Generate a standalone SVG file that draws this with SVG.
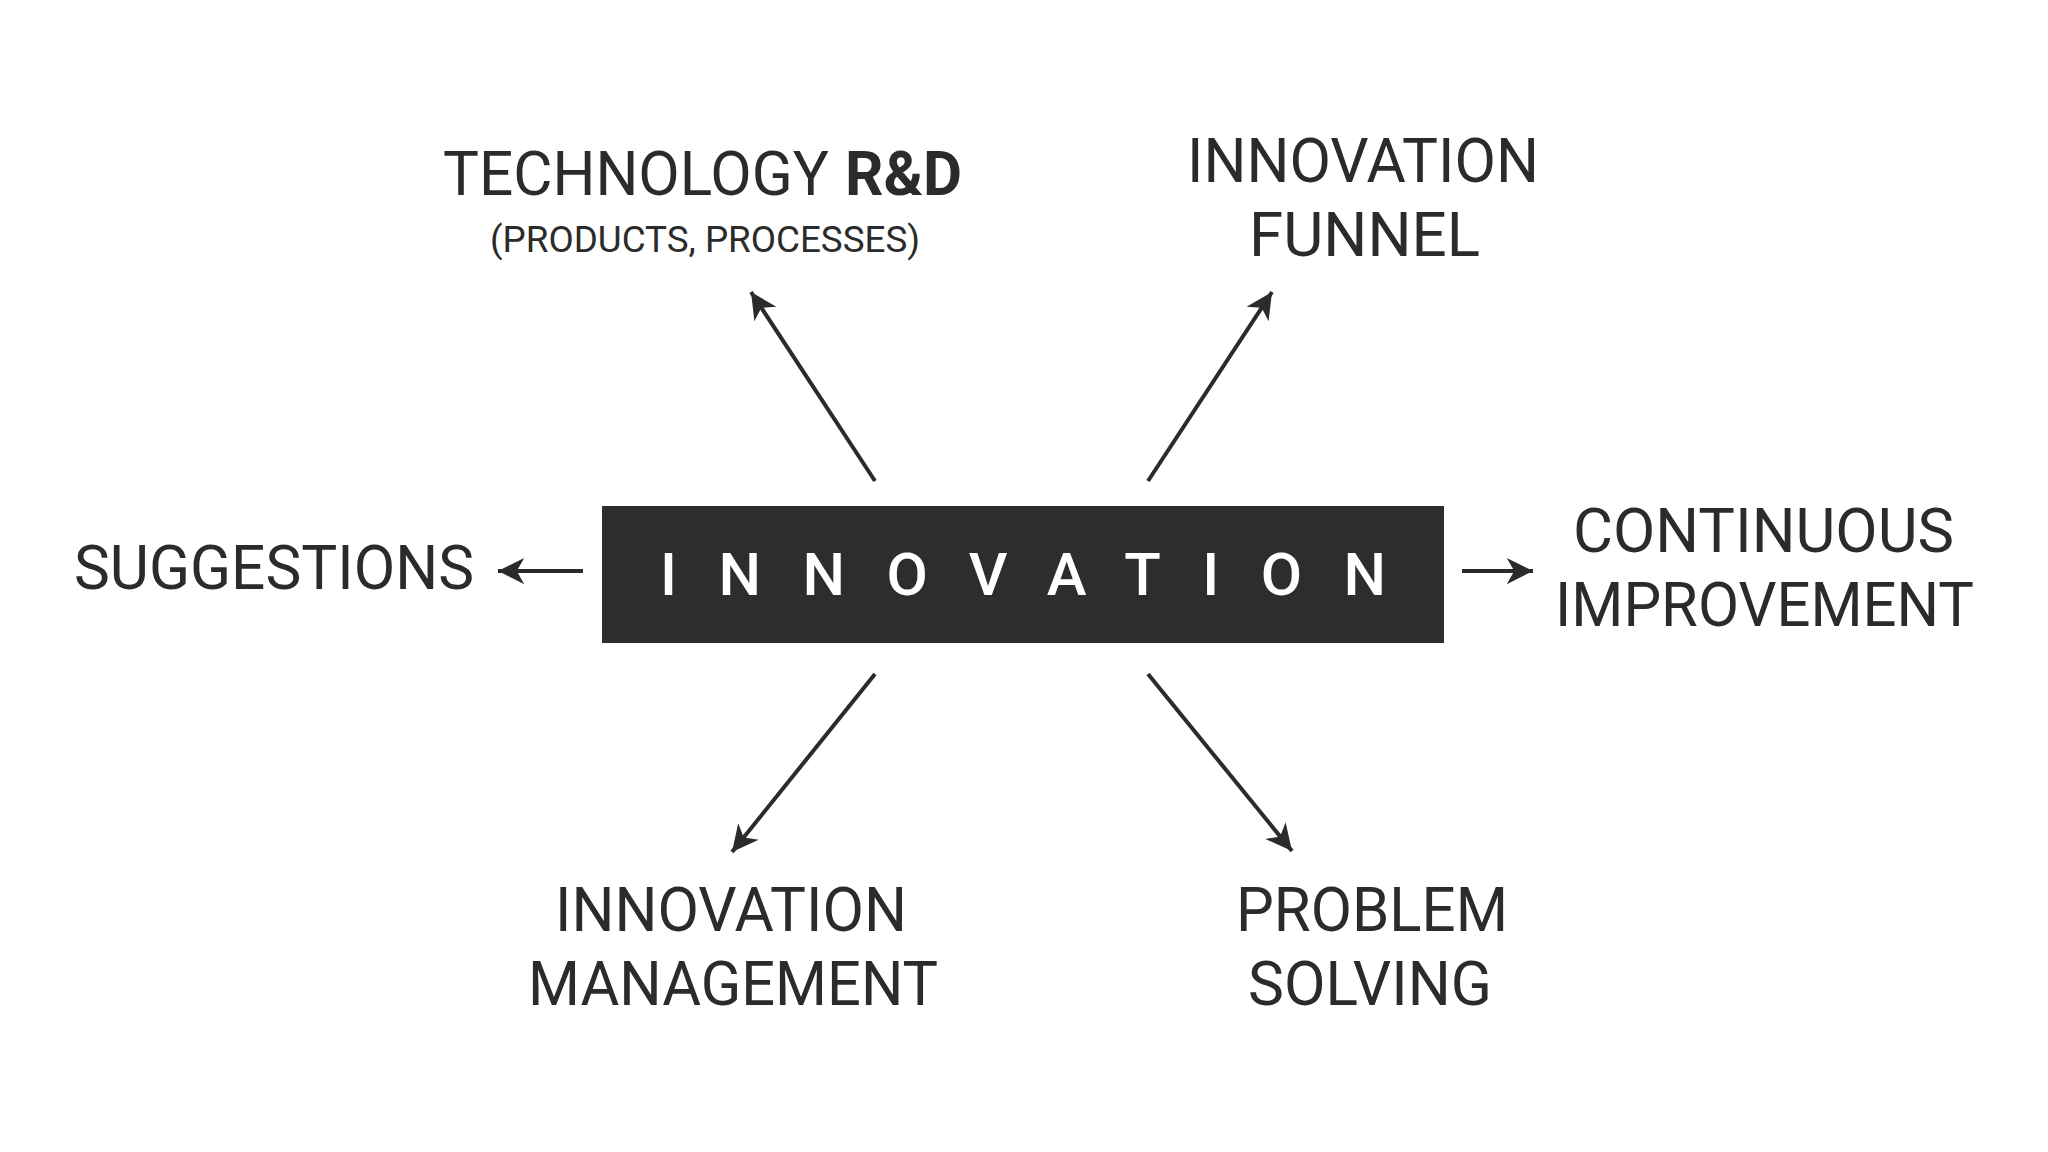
<svg xmlns="http://www.w3.org/2000/svg" width="2048" height="1152" viewBox="0 0 2048 1152">
  <style>
    .lbl { font-family: Roboto, "Liberation Sans", sans-serif; font-size: 62px; fill: #2b2b2b; }
    .sub { font-family: Roboto, "Liberation Sans", sans-serif; font-size: 37.5px; fill: #2b2b2b; }
    .bold { font-weight: 700; }
    .core { font-family: Roboto, "Liberation Sans", sans-serif; font-size: 60px; font-weight: 500; fill: #ffffff; }
    .conn { stroke: #2b2b2b; stroke-width: 4; fill: none; marker-end: url(#arrow); }
  </style>
  <defs>
    <marker id="arrow" markerUnits="userSpaceOnUse" markerWidth="30" markerHeight="30" viewBox="-22 -12 24 24" refX="0" refY="0" orient="auto">
      <path d="M0,0 L-21,-10.5 L-15,0 L-21,10.5 Z" fill="#2b2b2b"/>
    </marker>
  </defs>
  <rect width="2048" height="1152" fill="#ffffff"/>

  <g id="connectors">
    <line class="conn" x1="875" y1="481" x2="751" y2="292"/>
    <line class="conn" x1="1148" y1="481" x2="1272" y2="292"/>
    <line class="conn" x1="583" y1="571" x2="498" y2="571"/>
    <line class="conn" x1="1462" y1="571" x2="1533" y2="571"/>
    <line class="conn" x1="875" y1="674" x2="732" y2="852"/>
    <line class="conn" x1="1148" y1="674" x2="1292" y2="851"/>
  </g>

  <g id="innovation">
    <rect x="602" y="506" width="842" height="137" fill="#2d2d2d"/>
    <text class="core" x="660" y="595" textLength="726" lengthAdjust="spacing">INNOVATION</text>
  </g>

  <g id="technology-rd">
    <text class="lbl" x="443" y="195" textLength="386" lengthAdjust="spacingAndGlyphs">TECHNOLOGY</text>
    <text class="lbl bold" x="845" y="195" textLength="117" lengthAdjust="spacingAndGlyphs">R&amp;D</text>
    <text class="sub" x="490" y="252" textLength="430" lengthAdjust="spacingAndGlyphs">(PRODUCTS, PROCESSES)</text>
  </g>

  <g id="innovation-funnel">
    <text class="lbl" x="1187" y="182" textLength="352" lengthAdjust="spacingAndGlyphs">INNOVATION</text>
    <text class="lbl" x="1249" y="256" textLength="231" lengthAdjust="spacingAndGlyphs">FUNNEL</text>
  </g>

  <g id="suggestions">
    <text class="lbl" x="74" y="589" textLength="400" lengthAdjust="spacingAndGlyphs">SUGGESTIONS</text>
  </g>

  <g id="continuous-improvement">
    <text class="lbl" x="1573" y="552" textLength="381" lengthAdjust="spacingAndGlyphs">CONTINUOUS</text>
    <text class="lbl" x="1555" y="626" textLength="419" lengthAdjust="spacingAndGlyphs">IMPROVEMENT</text>
  </g>

  <g id="innovation-management">
    <text class="lbl" x="555" y="931" textLength="352" lengthAdjust="spacingAndGlyphs">INNOVATION</text>
    <text class="lbl" x="528" y="1005" textLength="410" lengthAdjust="spacingAndGlyphs">MANAGEMENT</text>
  </g>

  <g id="problem-solving">
    <text class="lbl" x="1236" y="931" textLength="272" lengthAdjust="spacingAndGlyphs">PROBLEM</text>
    <text class="lbl" x="1248" y="1005" textLength="244" lengthAdjust="spacingAndGlyphs">SOLVING</text>
  </g>
</svg>
